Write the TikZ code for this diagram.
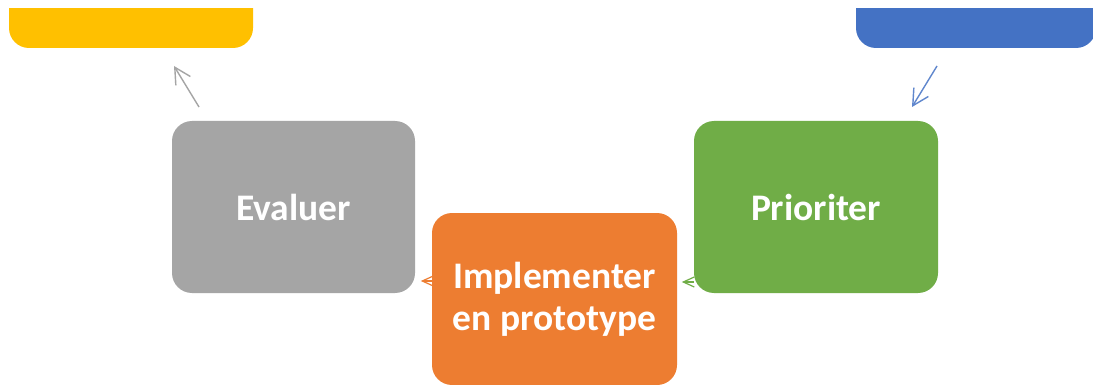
\documentclass[tikz,border=0pt]{standalone}
\usepackage{fontspec}
\setmainfont{Carlito}
\usetikzlibrary{arrows.meta}
\definecolor{cyellow}{HTML}{FFC000}
\definecolor{cblue}{HTML}{4472C4}
\definecolor{cgray}{HTML}{A5A5A5}
\definecolor{cgreen}{HTML}{70AD47}
\definecolor{corange}{HTML}{ED7D31}
\tikzset{
  box/.style={rectangle, rounded corners=20pt, minimum height=172pt, inner sep=0pt,
    text=white, font=\bfseries\fontsize{37.5}{42}\selectfont, align=center},
  bigarrow/.style={line width=1.4pt, -{Straight Barb[length=16pt,width=17pt,line width=1.4pt]}},
  smallarrow/.style={line width=1.2pt, -{Straight Barb[length=11pt,width=10pt,line width=1.2pt]}}
}
\begin{document}
\begin{tikzpicture}[x=1pt,y=-1pt]
\useasboundingbox[fill=white] (0,0) rectangle (1093,385);
\begin{scope}
\clip (0,9) rectangle (1093,385);
\node[box, fill=cyellow, minimum width=244pt, minimum height=120pt] (yel) at (131,-12) {};
\node[box, fill=cblue, minimum width=240pt, minimum height=120pt] (blu) at (976,-12) {};
\end{scope}
\node[box, fill=cgray, minimum width=243pt] (eval) at (293.5,207) {Evaluer};
\node[box, fill=cgreen, minimum width=244pt] (prio) at (816,207) {Prioriter};
\node[box, fill=corange, minimum width=245pt] (impl) at (554.5,299) {Implementer\\en prototype};
\coordinate (ya) at (174,66);
\coordinate (ga) at (199,107);
\coordinate (ba) at (937,66);
\coordinate (pa) at (912,107);
\draw[bigarrow, draw=cgray] (ga) -- (ya);
\draw[bigarrow, draw=cblue!85] (ba) -- (pa);
\draw[smallarrow, draw=cgreen] (prio.west) ++(0,75) -- ++(-12,0);
\draw[smallarrow, draw=corange] (impl.west) ++(0,-18) -- ++(-11,0);
\end{tikzpicture}
\end{document}
